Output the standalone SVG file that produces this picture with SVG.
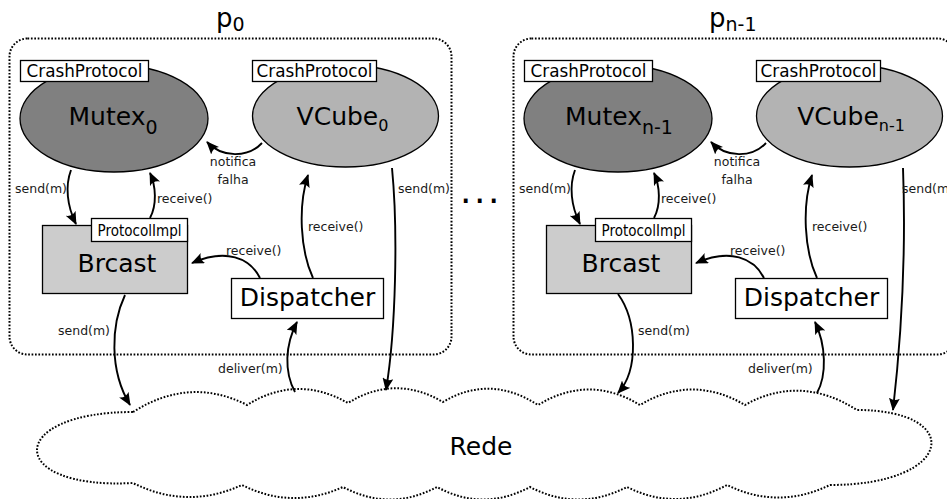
<svg xmlns="http://www.w3.org/2000/svg" width="947" height="499" viewBox="0 0 947 499">
  <style>
    text { font-family: "DejaVu Sans", "Liberation Sans", sans-serif; fill: #000; }
    .proc { fill: none; stroke: #000; stroke-width: 2; stroke-dasharray: 1.7 1.7; }
    .cloud { fill: #fff; stroke: #000; stroke-width: 2; stroke-dasharray: 1.7 1.7; }
    .mutex { fill: #808080; stroke: #000; stroke-width: 1.3; }
    .vcube { fill: #b3b3b3; stroke: #000; stroke-width: 1.3; }
    .brcast { fill: #cccccc; stroke: #000; stroke-width: 1.3; }
    .box { fill: #fff; stroke: #000; stroke-width: 1.3; }
    .big { font-size: 25px; }
    .sub { font-size: 19px; }
    .sub2 { font-size: 16px; }
    .tag { font-size: 16.8px; }
    .tag2 { font-size: 16.5px; }
    .lbl { font-size: 12.5px; fill: #1a1a1a; }
    .title { font-size: 26px; }
    .conn path { fill: none; stroke: #000; stroke-width: 1.9; marker-end: url(#arrow); }
  </style>
  <defs>
    <marker id="arrow" viewBox="0 0 13 11" refX="12" refY="5.5" markerWidth="13" markerHeight="11" markerUnits="userSpaceOnUse" orient="auto">
      <path d="M0,0 L13,5.5 L0,11 Q4,5.5 0,0 z" fill="#000"/>
    </marker>
  </defs>

  <!-- process p0 -->
  <g id="p0">
    <text class="title" x="216" y="27">p<tspan class="sub" dy="4">0</tspan></text>
    <rect class="proc" x="9.5" y="38.5" width="442" height="316" rx="18"/>
  </g>
  <g id="mutex0">
    <ellipse class="mutex" cx="114" cy="118.5" rx="94" ry="53.5"/>
    <text class="big" x="113" y="125" text-anchor="middle">Mutex<tspan class="sub" dy="9">0</tspan></text>
    <rect class="box" x="20.5" y="60.5" width="128" height="21"/>
    <text class="tag" x="84.5" y="76.5" text-anchor="middle">CrashProtocol</text>
  </g>
  <g id="vcube0">
    <ellipse class="vcube" cx="345.5" cy="116" rx="93" ry="51"/>
    <text class="big" x="342.5" y="125" text-anchor="middle">VCube<tspan class="sub2" dy="6">0</tspan></text>
    <rect class="box" x="252.5" y="60.5" width="124" height="21"/>
    <text class="tag" x="314.5" y="76.5" text-anchor="middle">CrashProtocol</text>
  </g>
  <g id="brcast0">
    <rect class="brcast" x="42.5" y="225.5" width="145" height="68"/>
    <text class="big" x="117" y="272" text-anchor="middle">Brcast</text>
    <rect class="box" x="91.5" y="218.5" width="96" height="23"/>
    <text class="tag2" x="139.5" y="236" text-anchor="middle" textLength="84" lengthAdjust="spacingAndGlyphs">ProtocolImpl</text>
  </g>
  <g id="dispatcher0">
    <rect class="box" x="231.5" y="278.5" width="152" height="40"/>
    <text class="big" x="307.5" y="306" text-anchor="middle">Dispatcher</text>
  </g>

  <!-- process p(n-1) -->
  <g id="pn1">
    <text class="title" x="709" y="27">p<tspan class="sub" dy="4">n-1</tspan></text>
    <rect class="proc" x="513.5" y="38.5" width="442" height="316" rx="18"/>
  </g>
  <g id="mutexn1">
    <ellipse class="mutex" cx="618" cy="118.5" rx="94" ry="53.5"/>
    <text class="big" x="619" y="125" text-anchor="middle">Mutex<tspan class="sub" dy="9">n-1</tspan></text>
    <rect class="box" x="524.5" y="60.5" width="128" height="21"/>
    <text class="tag" x="588.5" y="76.5" text-anchor="middle">CrashProtocol</text>
  </g>
  <g id="vcuben1">
    <ellipse class="vcube" cx="849.5" cy="116" rx="93" ry="51"/>
    <text class="big" x="851" y="125" text-anchor="middle">VCube<tspan class="sub2" dy="6">n-1</tspan></text>
    <rect class="box" x="756.5" y="60.5" width="124" height="21"/>
    <text class="tag" x="818.5" y="76.5" text-anchor="middle">CrashProtocol</text>
  </g>
  <g id="brcastn1">
    <rect class="brcast" x="546.5" y="225.5" width="145" height="68"/>
    <text class="big" x="621" y="272" text-anchor="middle">Brcast</text>
    <rect class="box" x="595.5" y="218.5" width="96" height="23"/>
    <text class="tag2" x="643.5" y="236" text-anchor="middle" textLength="84" lengthAdjust="spacingAndGlyphs">ProtocolImpl</text>
  </g>
  <g id="dispatchern1">
    <rect class="box" x="735.5" y="278.5" width="152" height="40"/>
    <text class="big" x="811.5" y="306" text-anchor="middle">Dispatcher</text>
  </g>

  <!-- ellipsis between processes -->
  <text id="ellipsis" x="460" y="203" font-size="36" letter-spacing="2.5">...</text>

  <!-- network cloud -->
  <g id="rede">
    <path class="cloud" d="M133,412 Q190,376 247,405 Q297,374 348,403 Q395,374 443,402 Q490,374 538,405 Q589,374 640,405 Q692,374 745,405 Q800,374 857,410 C965,410 955,485 830,485 Q778,510 727,485 Q677,512 627,487 Q578,512 530,487 Q483,512 437,487 Q390,512 343,487 Q292,510 242,485 Q187,510 133,483 C5,490 5,412 133,412 z"/>
    <text class="big" x="481" y="455" text-anchor="middle" font-size="23">Rede</text>
  </g>

  <!-- connectors -->
  <g id="connectors" class="conn">
    <path d="M262,143 C248,158 222,158 207,142"/>
    <path d="M71,170 C65,186 67,206 76,224"/>
    <path d="M150,218 C157,205 156,186 150,173"/>
    <path d="M260,278 C250,258 226,248 192,263"/>
    <path d="M313,278 C300,250 298,206 308,175"/>
    <path d="M392,168 C398,230 396,330 386,390"/>
    <path d="M125,295 C111,325 109,370 130,405"/>
    <path d="M295,392 C284,372 285,345 297,322"/>

    <path d="M766,143 C752,158 726,158 711,142"/>
    <path d="M575,170 C569,186 571,206 580,224"/>
    <path d="M654,218 C661,205 660,186 654,173"/>
    <path d="M764,278 C754,258 730,248 696,263"/>
    <path d="M817,278 C804,250 802,206 812,175"/>
    <path d="M903,168 C906,250 901,340 893,410"/>
    <path d="M618,294 C637,320 639,370 618,393"/>
    <path d="M817,393 C827,375 826,345 815,322"/>
  </g>

  <!-- connector labels -->
  <g id="labels">
    <text class="lbl" x="233" y="166" text-anchor="middle">notifica</text>
    <text class="lbl" x="233" y="184" text-anchor="middle">falha</text>
    <text class="lbl" x="15" y="193">send(m)</text>
    <text class="lbl" x="157" y="203">receive()</text>
    <text class="lbl" x="226" y="255">receive()</text>
    <text class="lbl" x="308" y="231">receive()</text>
    <text class="lbl" x="398" y="193">send(m)</text>
    <text class="lbl" x="58" y="335">send(m)</text>
    <text class="lbl" x="218" y="373">deliver(m)</text>

    <text class="lbl" x="737" y="166" text-anchor="middle">notifica</text>
    <text class="lbl" x="737" y="184" text-anchor="middle">falha</text>
    <text class="lbl" x="519" y="193">send(m)</text>
    <text class="lbl" x="661" y="203">receive()</text>
    <text class="lbl" x="730" y="255">receive()</text>
    <text class="lbl" x="812" y="231">receive()</text>
    <text class="lbl" x="902" y="193">send(m)</text>
    <text class="lbl" x="638" y="335">send(m)</text>
    <text class="lbl" x="748" y="373">deliver(m)</text>
  </g>
</svg>
